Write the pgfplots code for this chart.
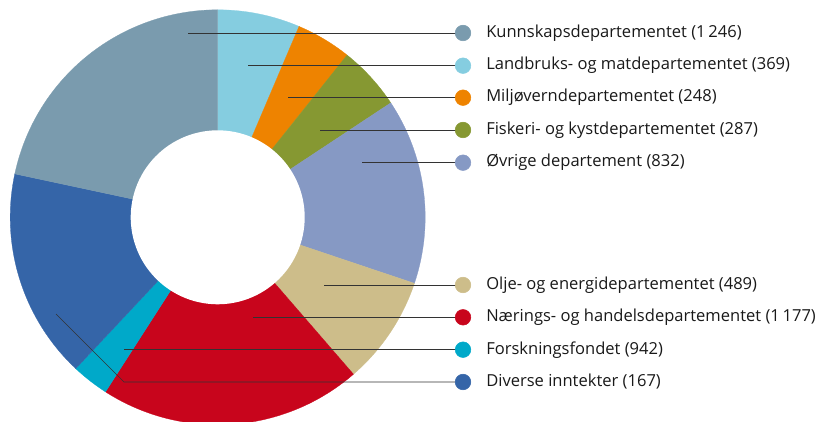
\documentclass[border=0pt]{standalone}
\usepackage{pgfplots}
\usepackage{pgfplotstable}
\pgfplotsset{compat=1.18}
\usepackage{fontspec}
\setmainfont{Open Sans}

\definecolor{cKunn}{HTML}{7A9BAE}
\definecolor{cLand}{HTML}{85CDE0}
\definecolor{cMil}{HTML}{EE8300}
\definecolor{cFisk}{HTML}{869832}
\definecolor{cOvr}{HTML}{8699C4}
\definecolor{cOlje}{HTML}{CDBD8A}
\definecolor{cNar}{HTML}{C8051C}
\definecolor{cFors}{HTML}{00A9C9}
\definecolor{cDiv}{HTML}{3565A8}

% slices clockwise from 12 o'clock, as drawn
\pgfplotstableread{
value color
369 cLand
248 cMil
287 cFisk
832 cOvr
489 cOlje
1177 cNar
167 cFors
942 cDiv
1246 cKunn
}\slices

\def\cx{217.7}
\def\cy{203.7}
\def\Ro{207.5}
\def\Ri{87}

\begin{document}
\begin{tikzpicture}
\path[use as bounding box] (0,0) rectangle (612pt,315.75pt);
\begin{axis}[
  at={(0,0)}, anchor=south west,
  scale only axis, width=612pt, height=315.75pt,
  xmin=0, xmax=816, ymin=0, ymax=421,
  hide axis, clip=true,
]
\def\total{0}
\pgfplotsforeachungrouped \i in {0,...,8} {%
  \pgfplotstablegetelem{\i}{value}\of\slices
  \pgfmathsetmacro\total{\total+\pgfplotsretval}%
}
\def\cum{0}
\pgfplotsforeachungrouped \i in {0,...,8} {%
  \pgfplotstablegetelem{\i}{value}\of\slices \let\v\pgfplotsretval
  \pgfplotstablegetelem{\i}{color}\of\slices \let\c\pgfplotsretval
  \pgfmathsetmacro\aone{90-\cum/\total*360}%
  \pgfmathsetmacro\cum{\cum+\v}%
  \pgfmathsetmacro\atwo{90-\cum/\total*360}%
  \edef\temp{\noexpand\addplot[fill=\c, draw=\c, line width=0.2pt, domain=\atwo:\aone, samples=80, variable=\noexpand\t]
    ({\cx+\Ro*cos(\noexpand\t)},{\cy+\Ro*sin(\noexpand\t)}) -- (axis cs:\cx,\cy) -- cycle;}%
  \temp
}
\addplot[fill=white, draw=none, domain=0:360, samples=120, variable=\t]
  ({\cx+\Ri*cos(\t)},{\cy+\Ri*sin(\t)}) -- cycle;

% leader lines (image y converted: Y = 421 - y)
\pgfplotsset{leader/.style={black!80, line width=0.5pt}}
\addplot[leader] coordinates {(188,388) (456,388)};
\addplot[leader] coordinates {(248,355.3) (456,355.3)};
\addplot[leader] coordinates {(288,323.3) (456,323.3)};
\addplot[leader] coordinates {(320,291) (456,291)};
\addplot[leader] coordinates {(362,258.3) (456,258.3)};
\addplot[leader] coordinates {(324,136) (456,136)};
\addplot[leader] coordinates {(253,103.7) (456,103.7)};
\addplot[leader] coordinates {(124,71.3) (456,71.3)};
\addplot[leader] coordinates {(56,107) (124,39) (456,39)};

% legend markers
\pgfplotsset{lm/.style={only marks, mark=*, mark size=5.85pt}}
\addplot[lm, mark options={fill=cKunn, draw=cKunn}] coordinates {(463,388)};
\addplot[lm, mark options={fill=cLand, draw=cLand}] coordinates {(463,355.3)};
\addplot[lm, mark options={fill=cMil, draw=cMil}] coordinates {(463,323.3)};
\addplot[lm, mark options={fill=cFisk, draw=cFisk}] coordinates {(463,291)};
\addplot[lm, mark options={fill=cOvr, draw=cOvr}] coordinates {(463,258.3)};
\addplot[lm, mark options={fill=cOlje, draw=cOlje}] coordinates {(463,136)};
\addplot[lm, mark options={fill=cNar, draw=cNar}] coordinates {(463,103.7)};
\addplot[lm, mark options={fill=cFors, draw=cFors}] coordinates {(463,71.3)};
\addplot[lm, mark options={fill=cDiv, draw=cDiv}] coordinates {(463,39)};

\tikzset{lt/.style={anchor=west, inner sep=0pt, font=\fontsize{12.4}{14}\selectfont, text=black!90}}
\node[lt] at (axis cs:486,388) {Kunnskapsdepartementet (1\,246)};
\node[lt] at (axis cs:486,355.3) {Landbruks- og matdepartementet (369)};
\node[lt] at (axis cs:486,323.3) {Miljøverndepartementet (248)};
\node[lt] at (axis cs:486,291) {Fiskeri- og kystdepartementet (287)};
\node[lt] at (axis cs:486,258.3) {Øvrige departement (832)};
\node[lt] at (axis cs:486,136) {Olje- og energidepartementet (489)};
\node[lt] at (axis cs:486,103.7) {Nærings- og handelsdepartementet (1\,177)};
\node[lt] at (axis cs:486,71.3) {Forskningsfondet (942)};
\node[lt] at (axis cs:486,39) {Diverse inntekter (167)};
\end{axis}
\end{tikzpicture}
\end{document}
